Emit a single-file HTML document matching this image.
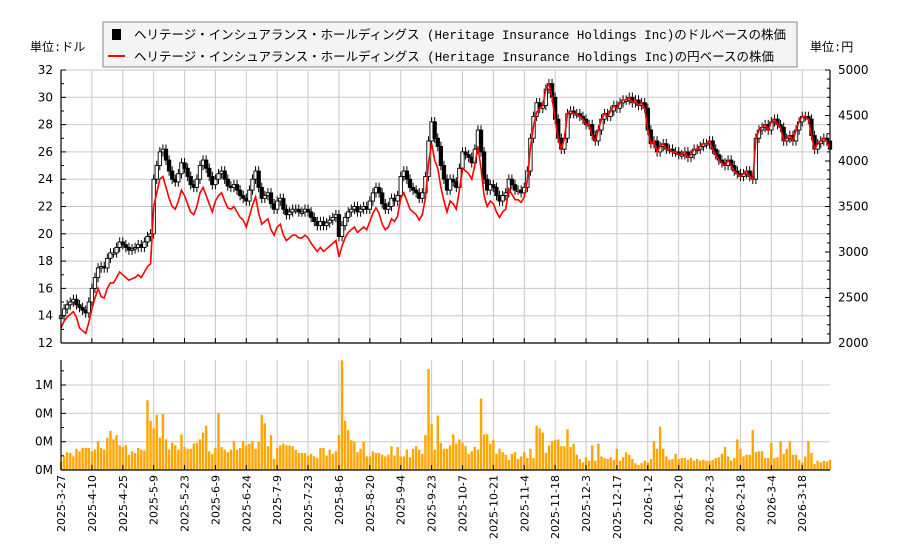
<!DOCTYPE html>
<html><head><meta charset="utf-8">
<style>
html,body{margin:0;padding:0;background:#fff;width:900px;height:550px;overflow:hidden}
svg{display:block;font-family:"DejaVu Sans","Liberation Sans","Noto Sans CJK JP",sans-serif}
.lg{font-family:"Liberation Mono","Noto Sans CJK JP",monospace}
</style></head>
<body>
<svg id="chart" width="900" height="550" viewBox="0 0 900 550" xmlns="http://www.w3.org/2000/svg">
<g id="grid"></g>
<g id="vol"></g>
<g id="candles"></g>
<path id="yenline" fill="none" stroke="#ff0000" stroke-width="1.6"/>
<g id="axes"></g>
<text x="30" y="51" font-size="12" class="lg">単位:ドル</text>
<text x="810" y="51" font-size="12" class="lg">単位:円</text>
<g>
<rect x="103" y="22" width="694" height="45" fill="#f4f4f4" stroke="#888" stroke-width="1"/>
<g>
<rect x="112" y="29" width="9" height="11" fill="#000"/>
<text x="134" y="39" font-size="12.5" class="lg" textLength="652" lengthAdjust="spacingAndGlyphs">ヘリテージ・インシュアランス・ホールディングス (Heritage Insurance Holdings Inc)のドルベースの株価</text>
</g>
<g>
<line x1="108" y1="56" x2="125" y2="56" stroke="#ff0000" stroke-width="2"/>
<text x="134" y="61" font-size="12.5" class="lg" textLength="640" lengthAdjust="spacingAndGlyphs">ヘリテージ・インシュアランス・ホールディングス (Heritage Insurance Holdings Inc)の円ベースの株価</text>
</g>
</g>
</svg>
<script>
const closes=[14.0,14.5,14.8,15.0,15.2,14.8,14.6,14.4,14.2,15.0,
16.0,16.8,17.5,17.6,17.5,18.2,18.6,18.6,19.0,19.4,
19.2,19.0,18.8,18.9,19.0,19.2,19.0,19.4,19.8,20.0,
24.0,25.0,26.0,26.2,25.4,24.6,24.0,23.8,24.4,25.2,
24.8,24.2,23.6,23.4,24.0,25.0,25.4,24.8,24.2,23.6,
24.0,24.4,24.6,24.0,23.5,23.4,23.6,23.2,22.8,22.6,
22.4,23.2,24.0,24.6,23.4,22.6,22.8,23.0,22.2,21.8,
22.4,22.6,21.8,21.4,21.6,21.8,21.8,21.6,21.6,21.8,
21.6,21.2,20.9,20.6,20.9,20.6,20.8,21.0,21.2,21.4,
19.8,20.6,21.2,21.6,21.8,22.0,21.6,21.8,22.0,21.8,
22.4,23.0,23.4,23.0,22.2,21.8,22.0,22.6,22.4,22.8,
24.2,24.6,24.0,23.4,23.2,23.0,22.6,23.0,24.2,26.8,
28.2,27.0,26.4,25.0,24.0,23.2,24.0,23.8,23.4,24.8,
26.0,25.8,25.6,25.2,26.2,27.6,26.0,24.0,23.2,23.6,
23.4,22.8,22.4,22.8,23.0,24.0,23.6,23.2,23.2,23.0,
23.4,24.6,27.0,28.6,29.6,29.2,29.4,30.6,31.0,30.0,
28.4,27.0,26.2,27.0,28.8,29.0,28.8,28.8,28.6,28.4,
28.0,28.0,27.2,26.8,27.6,28.4,28.8,28.6,29.0,29.4,
29.2,29.6,29.8,29.8,30.0,29.6,29.8,29.4,29.6,29.2,
27.6,26.6,26.8,26.0,26.4,26.6,26.2,26.2,26.0,26.0,
25.8,25.8,26.0,25.6,25.8,26.2,26.2,26.4,26.6,26.6,
26.8,26.2,25.8,25.4,25.2,25.0,25.4,25.0,24.6,24.4,
24.2,24.4,24.6,24.2,24.0,27.0,27.6,27.8,28.0,27.6,
28.2,28.4,28.0,27.8,26.8,27.0,27.2,26.8,27.6,28.2,
28.6,28.6,28.4,27.2,26.2,26.6,26.8,27.0,26.8,26.2];
const yenCloses=[2165,2240,2285,2315,2345,2285,2165,2135,2105,2225,
2375,2495,2600,2510,2495,2600,2660,2660,2720,2780,
2750,2720,2690,2705,2720,2750,2720,2780,2840,2870,
3500,3650,3800,3830,3710,3590,3500,3470,3560,3680,
3620,3530,3440,3410,3500,3650,3710,3620,3530,3440,
3560,3620,3650,3560,3485,3470,3500,3440,3380,3350,
3275,3395,3515,3605,3425,3305,3335,3365,3245,3185,
3275,3305,3185,3125,3155,3185,3185,3155,3155,3185,
3155,3095,3050,3005,3050,3005,3035,3065,3095,3125,
2945,3065,3155,3215,3245,3275,3215,3245,3275,3245,
3335,3425,3485,3425,3305,3245,3275,3365,3335,3395,
3590,3650,3560,3470,3440,3410,3350,3410,3590,3980,
4190,4010,3920,3710,3560,3440,3560,3530,3470,3680,
3920,3890,3860,3800,3950,4160,3920,3620,3500,3560,
3530,3440,3380,3440,3470,3695,3635,3575,3575,3545,
3605,3785,4145,4385,4535,4580,4610,4790,4850,4700,
4460,4250,4130,4250,4520,4550,4520,4520,4490,4460,
4400,4400,4280,4220,4340,4460,4520,4490,4550,4610,
4580,4640,4670,4670,4700,4640,4670,4610,4640,4580,
4340,4190,4220,4100,4160,4190,4130,4130,4100,4100,
4070,4070,4100,4040,4070,4130,4130,4160,4190,4190,
4220,4130,4070,4010,3980,3950,4010,3950,3890,3860,
3830,3860,3890,3830,3800,4250,4340,4370,4400,4340,
4430,4460,4400,4370,4220,4250,4280,4220,4340,4430,
4490,4490,4460,4280,4130,4190,4220,4250,4220,4130];
const volumesM=[.10,.16,.21,.20,.16,.25,.22,.26,.26,.26,
.22,.24,.34,.26,.24,.38,.46,.36,.41,.29,
.27,.29,.18,.22,.20,.26,.24,.23,.82,.58,
.49,.65,.38,.66,.36,.24,.32,.29,.24,.42,
.27,.25,.25,.31,.32,.36,.44,.52,.22,.19,
.26,.67,.27,.24,.21,.24,.34,.24,.26,.34,
.29,.31,.34,.25,.33,.65,.55,.28,.41,.13,
.26,.29,.31,.29,.29,.28,.24,.20,.20,.20,
.17,.19,.16,.14,.26,.26,.17,.24,.19,.22,
.41,1.29,.58,.47,.35,.33,.21,.25,.33,.16,
.16,.22,.20,.20,.18,.16,.18,.28,.17,.27,
.16,.16,.24,.15,.25,.28,.24,.19,.41,1.19,
.54,.24,.64,.32,.25,.25,.29,.42,.31,.36,
.32,.28,.19,.22,.27,.24,.84,.42,.42,.31,
.35,.19,.25,.21,.18,.12,.19,.21,.13,.16,
.21,.14,.25,.14,.52,.49,.44,.20,.29,.34,
.35,.36,.28,.28,.48,.27,.31,.18,.13,.09,
.15,.11,.29,.11,.31,.16,.14,.13,.15,.12,
.25,.11,.15,.21,.18,.13,.08,.06,.08,.11,
.09,.13,.34,.25,.51,.25,.16,.12,.13,.19,
.13,.14,.14,.12,.14,.11,.13,.11,.12,.11,
.11,.12,.14,.15,.19,.27,.16,.11,.14,.36,
.25,.16,.18,.18,.47,.21,.22,.22,.14,.14,
.32,.14,.15,.34,.19,.25,.34,.18,.18,.12,
.09,.16,.34,.20,.07,.11,.09,.11,.10,.12];
const dateLabels=["2025-3-27","2025-4-10","2025-4-25","2025-5-9","2025-5-23","2025-6-9","2025-6-24","2025-7-9","2025-7-23","2025-8-6","2025-8-20","2025-9-4","2025-9-23","2025-10-7","2025-10-21","2025-11-4","2025-11-18","2025-12-3","2025-12-17","2026-1-2","2026-1-20","2026-2-3","2026-2-18","2026-3-4","2026-3-18"];
const usdTicks=[12,14,16,18,20,22,24,26,28,30,32];
const yenTicks=[2000,2500,3000,3500,4000,4500,5000];
const volTicks=[0,0.333,0.667,1.0];
const volTickLabels=["0M","0M","0M","1M"];

const NS="http://www.w3.org/2000/svg";
const L=61,R=830,T=70,B=343,VT=360,VB=470;
const N=closes.length;
const step=(R-L)/(N-1);
function xS(i){return L+i*step;}
function yUsd(v){return B-(v-12)/(32-12)*(B-T);}
function yYen(v){return B-(v-2000)/(5000-2000)*(B-T);}
function yVol(v){return Math.max(VT,VB-v*85);}
function mk(tag,attrs,parent){const e=document.createElementNS(NS,tag);for(const k in attrs)e.setAttribute(k,attrs[k]);parent.appendChild(e);return e;}
const grid=document.getElementById('grid'),axes=document.getElementById('axes');
const vol=document.getElementById('vol'),cg=document.getElementById('candles');

usdTicks.forEach(t=>{const l=mk('line',{x1:L,x2:R,y1:yUsd(t),y2:yUsd(t),stroke:'#c8c8c8','stroke-width':1},grid);

});
volTicks.forEach(t=>{const l=mk('line',{x1:L,x2:R,y1:yVol(t),y2:yVol(t),stroke:'#c8c8c8','stroke-width':1},grid);

});
dateLabels.forEach((d,k)=>{const x=xS(k*10);
const l1=mk('line',{x1:x,x2:x,y1:T,y2:B,stroke:'#c8c8c8','stroke-width':1},grid);


const l2=mk('line',{x1:x,x2:x,y1:VT,y2:VB,stroke:'#c8c8c8','stroke-width':1},grid);


const tk=mk('line',{x1:x,x2:x,y1:B-5,y2:B,stroke:'#000'},axes);


const tk2=mk('line',{x1:x,x2:x,y1:VB-5,y2:VB,stroke:'#000'},axes);


const t=mk('text',{x:0,y:0,'font-size':11,'text-anchor':'end',transform:`translate(${x+4},475) rotate(-90)`},axes);
t.textContent=d;

});

volumesM.forEach((v,i)=>{const y=yVol(v);
const r=mk('rect',{x:xS(i)-1.2,y:y,width:2.4,height:VB-y,fill:'#ffa500'},vol);

});

closes.forEach((c,i)=>{const o=i>0?closes[i-1]:c-0.2;
const hi=Math.max(o,c)+0.35,lo=Math.min(o,c)-0.35,x=xS(i);
const w=mk('line',{x1:x,x2:x,y1:yUsd(hi),y2:yUsd(lo),stroke:'#000','stroke-width':1},cg);


const top=yUsd(Math.max(o,c)),bot=yUsd(Math.min(o,c));
const b=mk('rect',{x:x-1.7,y:top,width:3.4,height:Math.max(1.5,bot-top),fill:c>=o?'#fff':'#000',stroke:'#000','stroke-width':0.9},cg);

});

document.getElementById('yenline').setAttribute('d',yenCloses.map((v,i)=>(i?'L':'M')+xS(i).toFixed(1)+','+yYen(v).toFixed(1)).join(''));

[[L,T,L,B],[L,B,R,B],[R,T,R,B],[L,VT,L,VB],[L,VB,R,VB]].forEach(a=>{const l=mk('line',{x1:a[0],y1:a[1],x2:a[2],y2:a[3],stroke:'#000','stroke-width':1.2},axes);

});
for(let v=12;v<=32;v++){const y=yUsd(v);const maj=v%2===0;
const l=mk('line',{x1:L,x2:L+(maj?5:3),y1:y,y2:y,stroke:'#000'},axes);

}
usdTicks.forEach(t=>{const e=mk('text',{x:L-8,y:yUsd(t)+4,'font-size':12,'text-anchor':'end'},axes);e.textContent=t;

});
for(let v=2000;v<=5000;v+=100){const y=yYen(v);const maj=v%500===0;
const l=mk('line',{x1:R,x2:R-(maj?5:3),y1:y,y2:y,stroke:'#000'},axes);

}
yenTicks.forEach(t=>{const e=mk('text',{x:R+8,y:yYen(t)+4,'font-size':12},axes);e.textContent=t;

});
for(let k=0;k<=8;k++){const y=VB-k*85/6;if(y<VT)break;
const l=mk('line',{x1:L,x2:L+(k%2===0?5:3),y1:y,y2:y,stroke:'#000'},axes);

}
volTicks.forEach((t,k)=>{const e=mk('text',{x:L-8,y:yVol(t)+4,'font-size':12,'text-anchor':'end'},axes);e.textContent=volTickLabels[k];

});
</script>
</body></html>
